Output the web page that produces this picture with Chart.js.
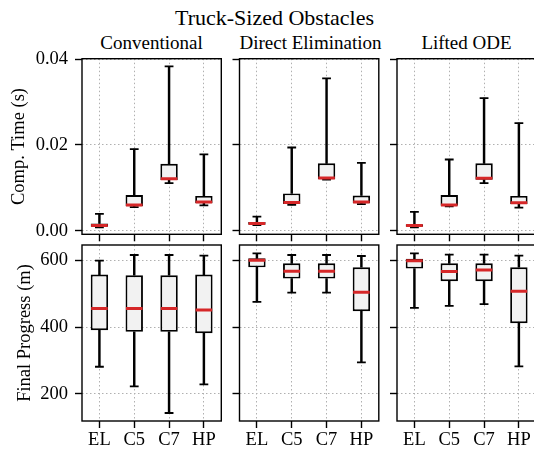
<!DOCTYPE html>
<html>
<head>
    <meta charset="UTF-8">
    <title>Truck-Sized Obstacles</title>
    <script src="https://cdn.jsdelivr.net/npm/chart.js@4.4.1/dist/chart.umd.min.js"></script>
    <style>
        body { margin: 0; width: 534px; height: 449px; overflow: hidden; background: #fff; position: relative;
               font-family: "Liberation Serif", serif; color: #000; }
        canvas { position: absolute; left: 0; top: 0; }
        .title { position: absolute; text-align: center; line-height: 1; white-space: nowrap; }
    </style>
</head>
<body>
<div class="title" style="left:0; width:549px; top:6.5px; font-size:22px;">Truck-Sized Obstacles</div>
<div class="title" style="left:82px; width:139px; top:32.5px; font-size:19px;">Conventional</div>
<div class="title" style="left:239.5px; width:139px; top:32.5px; font-size:19px;">Direct Elimination</div>
<div class="title" style="left:397px; width:139px; top:32.5px; font-size:19px;">Lifted ODE</div>

<canvas id="p0" width="560" height="449"></canvas>
<canvas id="p1" width="560" height="449"></canvas>
<canvas id="p2" width="560" height="449"></canvas>
<canvas id="p3" width="560" height="449"></canvas>
<canvas id="p4" width="560" height="449"></canvas>
<canvas id="p5" width="560" height="449"></canvas>

<script>
    // Data: each row is [low whisker, q1, median, q3, high whisker].
    var categories = ['EL', 'C5', 'C7', 'HP'];

    var timeConventional = [
        [0.0008, 0.0009, 0.0012, 0.0017, 0.0039],
        [0.0055, 0.0057, 0.0060, 0.0083, 0.0190],
        [0.0111, 0.0118, 0.0121, 0.0156, 0.0383],
        [0.0059, 0.0064, 0.0067, 0.0081, 0.0178]
    ];
    var timeDirect = [
        [0.0013, 0.0014, 0.0017, 0.0020, 0.0033],
        [0.0060, 0.0062, 0.0066, 0.0087, 0.0194],
        [0.0119, 0.0120, 0.0123, 0.0157, 0.0355],
        [0.0062, 0.0064, 0.0067, 0.0082, 0.0158]
    ];
    var timeLifted = [
        [0.0008, 0.0009, 0.0012, 0.0015, 0.0044],
        [0.0057, 0.0058, 0.0060, 0.0083, 0.0166],
        [0.0111, 0.0119, 0.0122, 0.0157, 0.0309],
        [0.0054, 0.0062, 0.0065, 0.0081, 0.0251]
    ];

    var progressConventional = [
        [281, 391, 456, 558, 600],
        [222, 386, 456, 556, 617],
        [142, 386, 456, 556, 617],
        [228, 382, 452, 558, 615]
    ];
    var progressDirect = [
        [476, 580, 601, 607, 622],
        [504, 546, 568, 592, 617],
        [504, 546, 568, 592, 617],
        [294, 448, 505, 580, 614]
    ];
    var progressLifted = [
        [458, 576, 600, 606, 622],
        [464, 538, 567, 592, 618],
        [469, 538, 572, 592, 618],
        [282, 412, 508, 580, 615]
    ];

    var timeTicks = [0, 0.02, 0.04];
    var progressTicks = [200, 400, 600];

    var RED = '#d62728';
    var GRID = '#b0b0b0';
    var FONT = { family: '"Liberation Serif", serif', size: 18.5 };

    Chart.defaults.color = '#000';
    Chart.defaults.font.family = '"Liberation Serif", serif';

    // panel geometry (chart area edges in page pixels)
    var colLeft = [82, 239.5, 397];
    var colWidth = 139.3;
    var rowTop = [58.7, 245];
    var rowBottom = [234.3, 421];
    var Y_W = 75, X_H = 25;

    var frame = {
        id: 'frame',
        afterDatasetsDraw: function(chart) {
            var a = chart.chartArea, ctx = chart.ctx;
            ctx.save();
            ctx.strokeStyle = '#000';
            ctx.lineWidth = 1.4;
            ctx.strokeRect(a.left, a.top, a.right - a.left, a.bottom - a.top);
            ctx.restore();
        }
    };

    function boxDatasets(stats) {
        var col = function(k) { return stats.map(function(s) { return s[k]; }); };
        return [
            { type: 'line', data: col(2), showLine: false, pointStyle: 'line', pointRadius: 8.3,
              pointBorderWidth: 3, pointBorderColor: RED, order: 0 },
            { type: 'bar', data: stats.map(function(s) { return [s[1], s[3]]; }),
              backgroundColor: '#f2f2f2', borderColor: '#000', borderWidth: 1.9, borderSkipped: false,
              grouped: false, barPercentage: 0.5, categoryPercentage: 1, order: 1 },
            { type: 'bar', data: stats.map(function(s) { return [s[0], s[1]]; }),
              backgroundColor: '#000', borderWidth: 0, barThickness: 1.8, grouped: false, order: 2 },
            { type: 'bar', data: stats.map(function(s) { return [s[3], s[4]]; }),
              backgroundColor: '#000', borderWidth: 0, barThickness: 1.8, grouped: false, order: 2 },
            { type: 'line', data: col(0), showLine: false, pointStyle: 'line', pointRadius: 4.4,
              pointBorderWidth: 1.8, pointBorderColor: '#000', order: 2 },
            { type: 'line', data: col(4), showLine: false, pointStyle: 'line', pointRadius: 4.4,
              pointBorderWidth: 1.8, pointBorderColor: '#000', order: 2 }
        ];
    }

    function makePanel(id, col, row, stats, yMin, yMax, yTicks, fmt, yTitle, titlePad) {
        var L = colLeft[col], R = L + colWidth;
        var showX = row === 1, showY = col === 0;
        new Chart(document.getElementById(id), {
            type: 'bar',
            data: { labels: categories, datasets: boxDatasets(stats) },
            plugins: [frame],
            options: {
                responsive: false,
                animation: false,
                devicePixelRatio: 1,
                layout: { padding: { left: L - Y_W, right: 560 - R, top: rowTop[row], bottom: 449 - rowBottom[row] - X_H } },
                plugins: { legend: { display: false }, tooltip: { enabled: false } },
                scales: {
                    x: {
                        offset: true,
                        grid: { offset: false, color: GRID, lineWidth: 1, tickLength: 7,
                                tickColor: '#000', tickWidth: 1.4, tickBorderDash: [] },
                        border: { display: false, dash: [1.5, 2.5] },
                        ticks: { font: FONT, padding: 1, maxRotation: 0, autoSkip: false,
                                 callback: function(v, i) { return showX ? categories[i] : ''; } },
                        afterFit: function(s) { s.height = X_H; }
                    },
                    y: {
                        min: yMin, max: yMax,
                        afterBuildTicks: function(s) { s.ticks = yTicks.map(function(v) { return { value: v }; }); },
                        grid: { color: GRID, lineWidth: 1, tickLength: 7,
                                tickColor: '#000', tickWidth: 1.4, tickBorderDash: [] },
                        border: { display: false, dash: [1.5, 2.5] },
                        ticks: { font: FONT, padding: 7,
                                 callback: function(v) { return showY ? fmt(v) : ''; } },
                        title: { display: showY, text: yTitle, font: { size: 18.5 }, padding: { top: titlePad, bottom: 0 } },
                        afterFit: function(s) { s.width = Y_W; }
                    }
                }
            }
        });
    }

    var fmtTime = function(v) { return v.toFixed(2); };
    var fmtProg = function(v) { return String(v); };

    makePanel('p0', 0, 0, timeConventional, -0.00084, 0.0401, timeTicks, fmtTime, 'Comp. Time (s)', 0.7);
    makePanel('p1', 1, 0, timeDirect, -0.00084, 0.0401, timeTicks, fmtTime, '', 0);
    makePanel('p2', 2, 0, timeLifted, -0.00084, 0.0401, timeTicks, fmtTime, '', 0);
    makePanel('p3', 0, 1, progressConventional, 118, 647, progressTicks, fmtProg, 'Final Progress (m)', 7.2);
    makePanel('p4', 1, 1, progressDirect, 118, 647, progressTicks, fmtProg, '', 0);
    makePanel('p5', 2, 1, progressLifted, 118, 647, progressTicks, fmtProg, '', 0);
</script>
</body>
</html>
